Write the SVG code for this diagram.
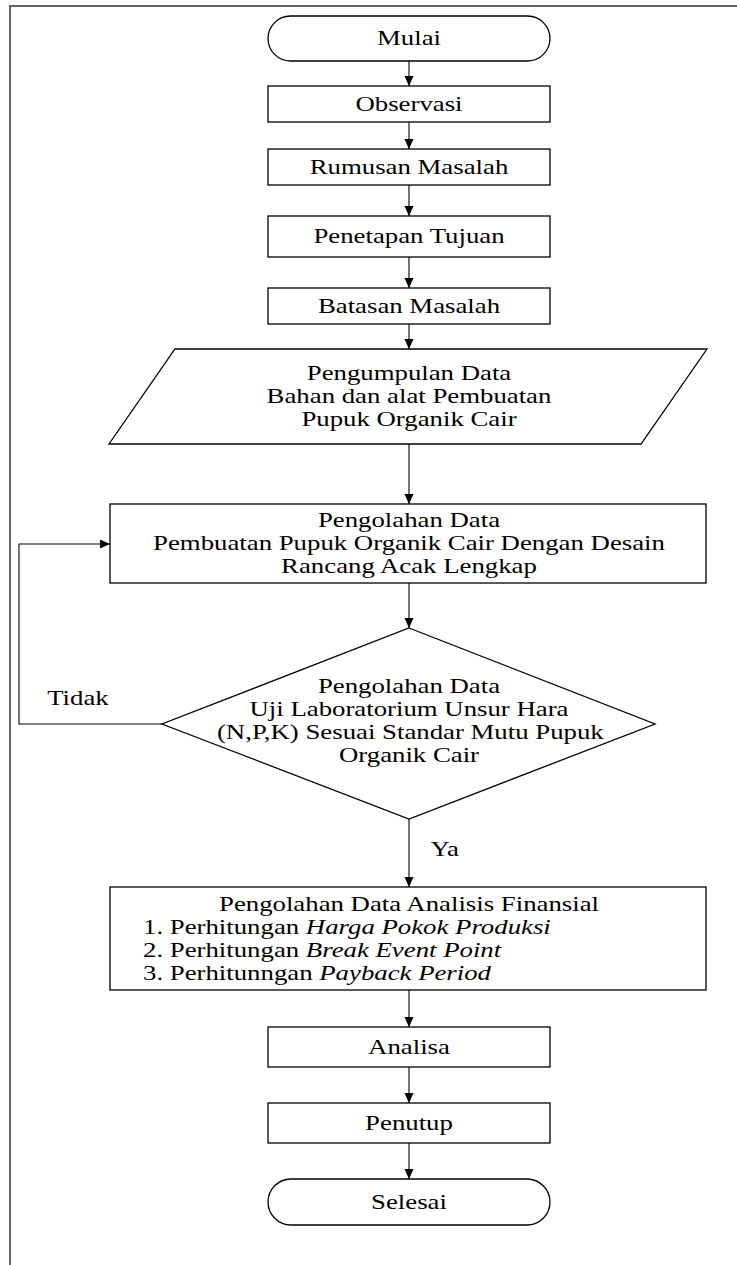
<svg xmlns="http://www.w3.org/2000/svg" width="737" height="1265" viewBox="0 0 737 1265">
<defs>
<style>
.shape{fill:#fff;stroke:#000;stroke-width:1.3}
.conn{fill:none;stroke:#000;stroke-width:1.1}
.t{font-family:"Liberation Serif","Times New Roman",serif;font-size:20px;fill:#000}
.c{text-anchor:middle}
.i{font-style:italic}
.frame{fill:none;stroke:#666;stroke-width:2}
</style>
<marker id="ah" markerUnits="userSpaceOnUse" markerWidth="10" markerHeight="10" viewBox="0 0 10 10" refX="10" refY="5" orient="auto">
<path d="M0,0.5 L10,5 L0,9.5 z" fill="#000"/>
</marker>
</defs>
<rect width="737" height="1265" fill="#fff"/>
<path class="frame" d="M10,1265 V6 H737"/>

<g id="connectors">
<line class="conn" x1="409" y1="61" x2="409" y2="86" marker-end="url(#ah)"/>
<line class="conn" x1="409" y1="122" x2="409" y2="149" marker-end="url(#ah)"/>
<line class="conn" x1="409" y1="185" x2="409" y2="216" marker-end="url(#ah)"/>
<line class="conn" x1="409" y1="257" x2="409" y2="288" marker-end="url(#ah)"/>
<line class="conn" x1="409" y1="324" x2="409" y2="349" marker-end="url(#ah)"/>
<line class="conn" x1="409" y1="444" x2="409" y2="504" marker-end="url(#ah)"/>
<line class="conn" x1="409" y1="583" x2="409" y2="628" marker-end="url(#ah)"/>
<line class="conn" x1="409" y1="819" x2="409" y2="887" marker-end="url(#ah)"/>
<line class="conn" x1="409" y1="990" x2="409" y2="1027" marker-end="url(#ah)"/>
<line class="conn" x1="409" y1="1067" x2="409" y2="1103" marker-end="url(#ah)"/>
<line class="conn" x1="409" y1="1143" x2="409" y2="1179" marker-end="url(#ah)"/>
<polyline class="conn" points="162,724 19,724 19,544 110,544" marker-end="url(#ah)"/>
</g>

<g id="mulai"><rect class="shape" x="268" y="16" width="282" height="45" rx="22.5" ry="22.5"/></g>
<g id="observasi"><rect class="shape" x="268" y="86" width="282" height="36"/></g>
<g id="rumusan"><rect class="shape" x="268" y="149" width="282" height="36"/></g>
<g id="penetapan"><rect class="shape" x="268" y="216" width="282" height="41"/></g>
<g id="batasan"><rect class="shape" x="268" y="288" width="282" height="36"/></g>
<g id="pengumpulan"><polygon class="shape" points="175,349 707,349 641,444 109,444"/></g>
<g id="pengolahan"><rect class="shape" x="110" y="504" width="596" height="79"/></g>
<g id="uji"><polygon class="shape" points="409,628 655,724 409,819 162,724"/></g>
<g id="finansial"><rect class="shape" x="110" y="887" width="596" height="103"/></g>
<g id="analisa"><rect class="shape" x="268" y="1027" width="282" height="40"/></g>
<g id="penutup"><rect class="shape" x="268" y="1103" width="282" height="40"/></g>
<g id="selesai"><rect class="shape" x="268" y="1179" width="282" height="46" rx="23" ry="23"/></g>

<g id="labels" transform="translate(409 0) scale(1.34 1) translate(-409 0)">
<text class="t c" x="409" y="45">Mulai</text>
<text class="t c" x="409" y="111">Observasi</text>
<text class="t c" x="409" y="174">Rumusan Masalah</text>
<text class="t c" x="409" y="243">Penetapan Tujuan</text>
<text class="t c" x="409" y="313">Batasan Masalah</text>
<text class="t c" x="409" y="380">Pengumpulan Data</text>
<text class="t c" x="409" y="403">Bahan dan alat Pembuatan</text>
<text class="t c" x="409" y="426">Pupuk Organik Cair</text>
<text class="t c" x="409" y="527">Pengolahan Data</text>
<text class="t c" x="409" y="550">Pembuatan Pupuk Organik Cair Dengan Desain</text>
<text class="t c" x="409" y="573">Rancang Acak Lengkap</text>
<text class="t c" x="409" y="693">Pengolahan Data</text>
<text class="t c" x="409" y="716">Uji Laboratorium Unsur Hara</text>
<text class="t c" x="410" y="739">(N,P,K) Sesuai Standar Mutu Pupuk</text>
<text class="t c" x="409" y="762">Organik Cair</text>
<text class="t" x="139" y="705">Tidak</text>
<text class="t" x="425" y="856">Ya</text>
<text class="t c" x="409" y="911">Pengolahan Data Analisis Finansial</text>
<text class="t" x="210.5" y="934">1. Perhitungan <tspan class="i">Harga Pokok Produksi</tspan></text>
<text class="t" x="210.5" y="957">2. Perhitungan <tspan class="i">Break Event Point</tspan></text>
<text class="t" x="210.5" y="980">3. Perhitunngan <tspan class="i">Payback Period</tspan></text>
<text class="t c" x="409" y="1054">Analisa</text>
<text class="t c" x="409" y="1130">Penutup</text>
<text class="t c" x="409" y="1209">Selesai</text>
</g>
</svg>
